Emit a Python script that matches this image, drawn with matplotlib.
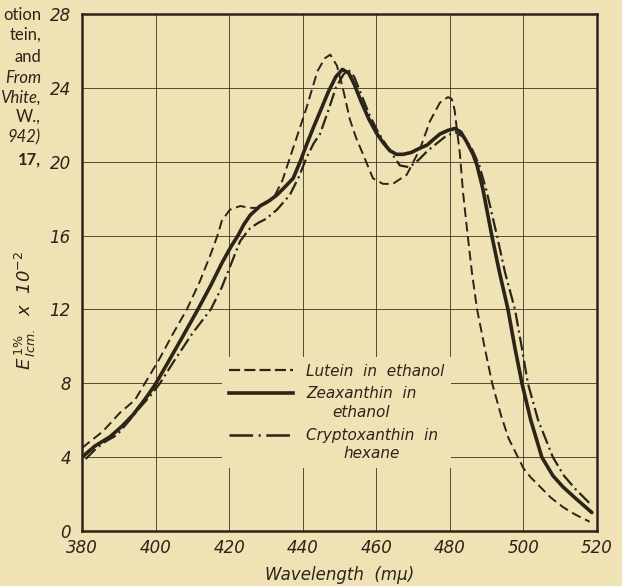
import matplotlib
matplotlib.use('Agg')
import matplotlib.pyplot as plt
import numpy as np
from matplotlib.lines import Line2D

BG = '#efe3b6'
INK = '#2b2418'

# ---- data ----
lutein_wl = [380, 385.7, 390.3, 394.4, 398, 401, 404.5, 408.5, 412, 415, 417, 418, 420.2, 423, 425.7, 428,
             430.5, 432.5, 434.5, 436, 439, 441, 444, 446, 447.5, 449.3, 451, 452.8, 454.5, 456.4, 459.1,
             461.8, 464.5, 468.3, 471.9, 474.6, 477.3, 479.5, 480.5, 481.3, 482, 482.7, 483.6, 484.8, 486,
             487.4, 489.5, 491.5, 494, 496, 498.5, 500, 502, 504.5, 507.5, 510.7, 514, 518]
lutein_E = [4.5, 5.4, 6.4, 7.1, 8.3, 9.3, 10.6, 12.0, 13.5, 15.0, 16.1, 16.8, 17.4, 17.6, 17.5, 17.5,
            17.8, 18.2, 19.0, 19.9, 21.7, 22.9, 24.9, 25.6, 25.8, 25.2, 23.9, 22.3, 21.3, 20.4, 19.1,
            18.8, 18.8, 19.3, 20.7, 22.2, 23.2, 23.5, 23.4, 22.8, 21.6, 20.5, 18.3, 16.1, 14.0,
            12.0, 9.9, 8.0, 6.2, 5.0, 4.0, 3.4, 2.9, 2.4, 1.8, 1.3, 0.9, 0.5]

zeax_wl = [380, 383.5, 387.6, 391, 393.9, 397, 399.8, 403, 407, 411.5, 415, 418, 420.5, 422.4, 424, 425.7,
           428.4, 431, 433, 435, 437.4, 439.3, 441, 443, 444.7, 447, 449, 450.8, 452.5, 454, 456, 458,
           460.2, 462, 463.7, 465.5, 467.3, 469.5, 471.5, 473.8, 475.5, 477.3, 479.5, 481.4, 483, 484.5,
           486.3, 487.4, 489, 491.4, 493.5, 495.8, 497.7, 499.6, 502, 505, 508, 510.7, 514, 518.6]
zeax_E = [4.0, 4.6, 5.1, 5.7, 6.3, 7.1, 7.9, 9.0, 10.4, 12.0, 13.3, 14.5, 15.4, 16.0, 16.6, 17.1,
          17.6, 17.9, 18.2, 18.6, 19.1, 20.0, 20.9, 21.9, 22.7, 23.8, 24.6, 25.0, 24.8, 24.2, 23.2, 22.3,
          21.5, 21.0, 20.6, 20.4, 20.4, 20.5, 20.7, 20.9, 21.2, 21.5, 21.7, 21.8, 21.6, 21.1,
          20.4, 19.8, 18.5, 16.0, 14.0, 12.0, 9.9, 8.0, 6.0, 4.0, 3.0, 2.4, 1.8, 1.0]

crypto_wl = [381, 383.5, 386, 389.5, 392.5, 395.8, 398.5, 401.2, 405, 410, 415, 418, 421, 423, 424.5, 425.7,
             428, 430, 433, 436.5, 439, 441, 443, 444.7, 447, 449, 451, 452.3, 454, 456, 458, 460.5, 463,
             466.4, 469, 471.5, 474, 476.5, 479, 481.5, 484, 486, 488, 490, 492.8, 495, 497.7, 499.5,
             501.2, 504, 508, 511, 514, 518]
crypto_E = [3.9, 4.4, 4.8, 5.2, 5.9, 6.7, 7.3, 8.0, 9.2, 10.7, 12.0, 13.2, 14.7, 15.7, 16.1, 16.4,
            16.7, 16.9, 17.4, 18.2, 19.2, 20.2, 21.0, 21.5, 22.8, 24.0, 24.7, 25.0, 24.6, 23.6, 22.6, 21.6, 20.8,
            19.8, 19.7, 20.1, 20.6, 21.0, 21.4, 21.6, 21.3, 20.7, 19.8, 18.4, 16.0, 14.0, 12.0, 10.0,
            8.0, 6.0, 4.0, 3.0, 2.3, 1.5]

x_ticks = [380, 400, 420, 440, 460, 480, 500, 520]
y_ticks = [0, 4, 8, 12, 16, 20, 24, 28]

series_labels = ['Lutein  in  ethanol', 'Zeaxanthin  in\nethanol', 'Cryptoxanthin  in\nhexane']
caption_lines = ['otion', 'tein,', 'and', 'From', 'Vhite,', 'W.,', '942)', '17,']
caption_styles = ['normal', 'normal', 'normal', 'italic', 'italic', 'normal', 'italic', 'normal']
caption_weights = ['normal'] * 7 + ['bold']

# ---- drawing ----
plt.rcParams['font.family'] = ['DejaVu Sans']
plt.rcParams['lines.scale_dashes'] = False
plt.rcParams['mathtext.fontset'] = 'dejavusans'

W, H = 622, 586
fig = plt.figure(figsize=(W / 100, H / 100), dpi=100, facecolor=BG)
ax = fig.add_axes([82 / W, 55 / H, 515 / W, 517 / H], facecolor=BG)
ax.set_xlim(380, 520)
ax.set_ylim(0, 28)
ax.set_xticks(x_ticks)
ax.set_yticks(y_ticks)
ax.tick_params(length=0, labelsize=12, colors=INK)
ax.tick_params(axis='y', pad=8)
ax.tick_params(axis='x', pad=6)
for lab in ax.get_xticklabels() + ax.get_yticklabels():
    lab.set_fontstyle('italic')
ax.grid(True, color=INK, lw=0.7, alpha=0.8)
ax.set_axisbelow(True)
for s in ax.spines.values():
    s.set_linewidth(1.8)
    s.set_color(INK)

lut_dash = (7, 3.5)
cry_dash = (10, 3, 1.5, 3)
ax.plot(lutein_wl, lutein_E, color=INK, lw=1.4, dashes=lut_dash)
ax.plot(zeax_wl, zeax_E, color=INK, lw=2.6, solid_capstyle='round')
ax.plot(crypto_wl, crypto_E, color=INK, lw=1.6, dashes=cry_dash)

handles = [Line2D([], [], color=INK, lw=1.6, dashes=(8, 3)),
           Line2D([], [], color=INK, lw=2.6),
           Line2D([], [], color=INK, lw=1.8, dashes=(17, 4, 1.5, 4))]
leg = ax.legend(handles, series_labels, loc='upper left', bbox_to_anchor=(0.272, 0.337),
                borderaxespad=0, borderpad=0.45, frameon=True, facecolor=BG, edgecolor='none',
                framealpha=1, fancybox=False, handlelength=4.2, handletextpad=0.85,
                labelspacing=0.5, prop={'size': 11, 'style': 'italic'})
for t in leg.get_texts():
    t.set_multialignment('center')
    t.set_linespacing(1.3)
    t.set_color(INK)
for i in (1, 2):
    hl = leg.legend_handles[i]
    hl.set_ydata(np.asarray(hl.get_ydata()) + 7.5)

ax.set_xlabel('Wavelength  (m\u03bc)', fontsize=12, fontstyle='italic', color=INK, labelpad=6)

fig.text(25 / W, 1 - 310 / H, r'$\mathit{E}^{\,1\%}_{\,\mathit{Icm.}}$  x  10$^{-2}$', rotation=90,
         ha='center', va='center', fontsize=13, fontstyle='italic', color=INK)

cap_y = [15, 35, 57, 78, 98, 117, 137, 160]
for txt, yy, st, wt in zip(caption_lines, cap_y, caption_styles, caption_weights):
    fig.text(41 / W, 1 - yy / H, txt, ha='right', va='center', fontsize=12,
             fontstyle=st, fontweight=wt, color=INK, family=['Lato', 'DejaVu Sans'])

fig.savefig('out.png', dpi=100, facecolor=BG)
